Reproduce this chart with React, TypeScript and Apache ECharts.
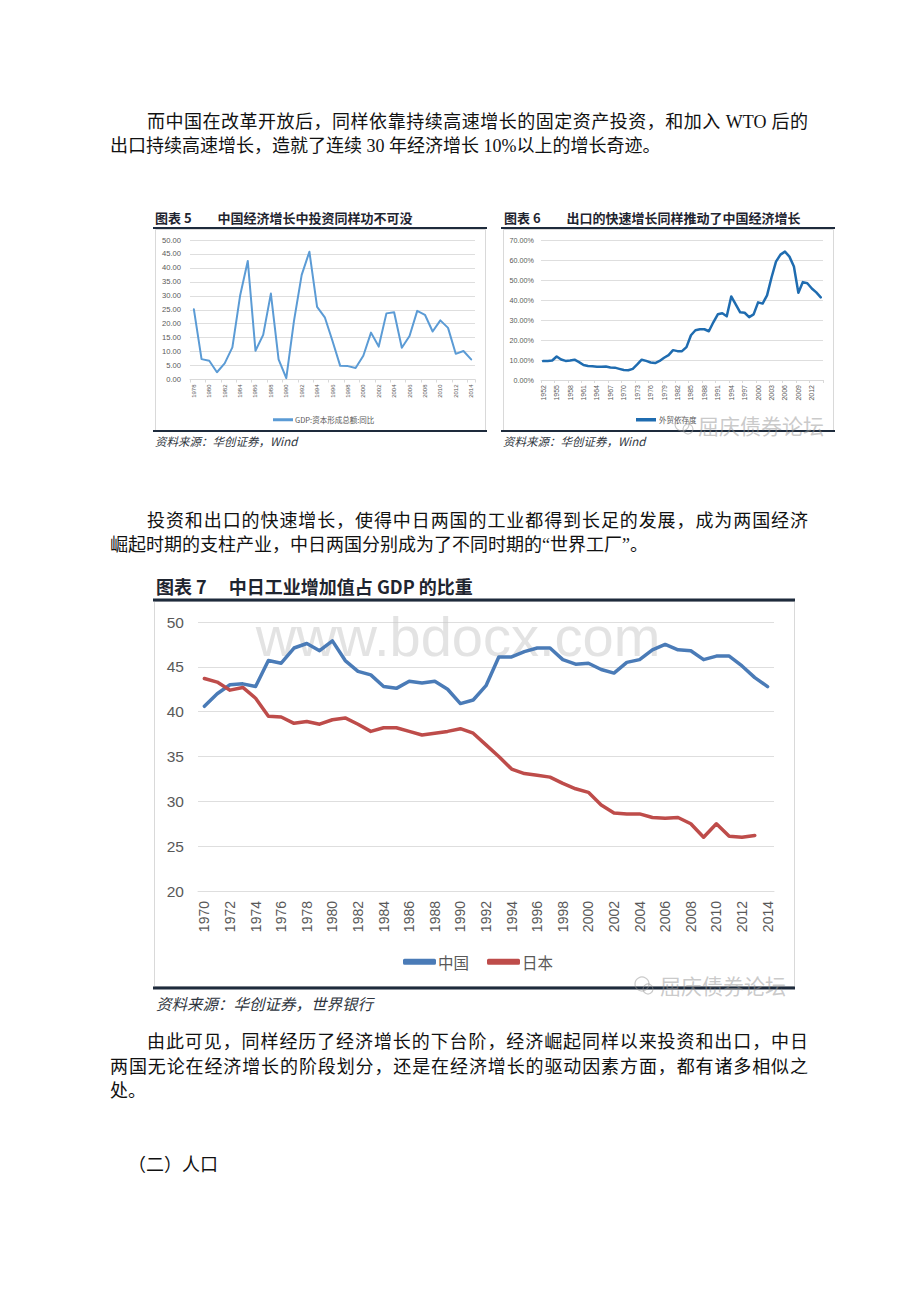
import React, { useEffect, useRef } from "react";
import * as echarts from "echarts";

const yearRange = (a: number, b: number) => {
  const out: string[] = [];
  for (let y = a; y <= b; y++) out.push(String(y));
  return out;
};

// Chart 5: GDP 资本形成总额 同比 (1978-2014)
const years5 = yearRange(1978, 2014);
const capForm5 = [
  25.2, 7.3, 6.7, 2.6, 5.8, 11.5, 30.0, 42.5, 10.3, 16.0, 30.8, 7.2, 0.5, 21.0,
  37.5, 45.8, 26.0, 22.3, 13.8, 4.9, 4.8, 4.1, 8.5, 16.8, 11.8, 23.7, 24.1, 11.4,
  15.6, 24.6, 23.2, 17.2, 21.2, 18.5, 9.2, 10.2, 7.2,
];

// Chart 6: 外贸依存度 (1952-2014)
const years6 = yearRange(1952, 2014);
const tradeDep6 = [
  9.5, 9.6, 9.8, 11.8, 10.3, 9.6, 9.8, 10.2, 9.0, 7.5, 7.0, 6.9, 6.7, 6.7, 6.8,
  6.3, 6.2, 5.6, 5.0, 4.9, 5.6, 7.8, 10.2, 9.6, 8.8, 8.5, 9.6, 11.2, 12.5, 15.0,
  14.5, 14.5, 16.5, 22.5, 25.0, 25.5, 25.5, 24.5, 29.0, 33.0, 33.5, 32.0, 42.0,
  38.0, 34.0, 33.8, 31.6, 33.0, 39.0, 38.4, 42.5, 51.5, 59.5, 63.0, 64.5, 62.0,
  57.0, 43.8, 49.2, 48.6, 46.0, 44.0, 41.5,
];

// Chart 7: 中日工业增加值占GDP比重 (1970-2014)
const years7 = yearRange(1970, 2014);
const china7 = [
  40.6, 42.0, 43.0, 43.1, 42.8, 45.7, 45.4, 47.1, 47.6, 46.8,
  47.9, 45.7, 44.5, 44.1, 42.8, 42.6, 43.4, 43.2, 43.4, 42.5,
  40.9, 41.3, 42.9, 46.1, 46.1, 46.7, 47.1, 47.1, 45.8, 45.3,
  45.4, 44.7, 44.3, 45.5, 45.8, 46.9, 47.5, 46.9, 46.8, 45.8,
  46.2, 46.2, 45.1, 43.8, 42.8,
];
const japan7 = [
  43.7, 43.3, 42.4, 42.7, 41.5, 39.5, 39.4, 38.7, 38.9, 38.6,
  39.1, 39.3, 38.6, 37.8, 38.2, 38.2, 37.8, 37.4, 37.6, 37.8,
  38.1, 37.6, 36.3, 35.0, 33.6, 33.1, 32.9, 32.7, 32.0, 31.4,
  31.0, 29.6, 28.7, 28.6, 28.6, 28.2, 28.1, 28.2, 27.5, 26.0,
  27.5, 26.1, 26.0, 26.2, null,
];

const SANS = '"Liberation Sans", "Noto Sans CJK SC", sans-serif';
const CJK = '"Noto Sans CJK SC", "Liberation Sans", sans-serif';
const RULE = "#1e2b3c";
const BOX = "#d9d9d9";
const GRIDC = "#dedede";
const LABEL = "#595959";

const para = [
  { left: 147, y: 122, width: 661, text: "而中国在改革开放后，同样依靠持续高速增长的固定资产投资，和加入 WTO 后的" },
  { left: 110, y: 146, text: "出口持续高速增长，造就了连续 30 年经济增长 10%以上的增长奇迹。" },
  { left: 147, y: 521, width: 661, text: "投资和出口的快速增长，使得中日两国的工业都得到长足的发展，成为两国经济" },
  { left: 110, y: 545, text: "崛起时期的支柱产业，中日两国分别成为了不同时期的“世界工厂”。" },
  { left: 147, y: 1042, width: 661, text: "由此可见，同样经历了经济增长的下台阶，经济崛起同样以来投资和出口，中日" },
  { left: 110, y: 1067, width: 698, text: "两国无论在经济增长的阶段划分，还是在经济增长的驱动因素方面，都有诸多相似之" },
  { left: 110, y: 1091, text: "处。" },
  { left: 128, y: 1165, text: "（二）人口" },
];

function wechatMark(iconX: number, textX: number, y: number) {
  const c = "rgba(150,150,150,0.5)";
  return [
    { type: "circle", shape: { cx: iconX, cy: y - 1, r: 7 }, style: { fill: "none", stroke: c, lineWidth: 1.2 }, z: 10 },
    { type: "circle", shape: { cx: iconX + 6, cy: y + 4, r: 5 }, style: { fill: "none", stroke: c, lineWidth: 1.2 }, z: 10 },
    {
      type: "text", x: textX, y: y,
      style: { text: "屈庆债券论坛", fontSize: 21, fontFamily: CJK, fill: c, align: "left", verticalAlign: "middle" },
      z: 10,
    },
  ];
}

function buildOption() {
  const smallX = (gi: number, data: string[], interval: number, size: number) => ({
    type: "category",
    gridIndex: gi,
    data,
    boundaryGap: true,
    axisLine: { show: true, lineStyle: { color: BOX, width: 1 } },
    axisTick: { show: true, interval, length: 3, lineStyle: { color: BOX } },
    axisLabel: { interval, rotate: 90, fontSize: size, color: LABEL, margin: 5, fontFamily: SANS },
    splitLine: { show: false },
  });

  return {
    animation: false,
    backgroundColor: "#ffffff",
    textStyle: { fontFamily: SANS },
    grid: [
      { left: 190, top: 240, width: 285, height: 139.5, outerBoundsMode: "none" },
      { left: 541, top: 240.7, width: 282, height: 139.3, outerBoundsMode: "none" },
      { left: 198, top: 622, width: 576, height: 269, outerBoundsMode: "none" },
    ],
    xAxis: [
      smallX(0, years5, 1, 6),
      smallX(1, years6, 2, 7),
      {
        type: "category",
        gridIndex: 2,
        data: years7,
        boundaryGap: true,
        axisLine: { show: true, lineStyle: { color: GRIDC } },
        axisTick: { show: false },
        axisLabel: { interval: 1, rotate: 90, fontSize: 14, color: LABEL, margin: 10, fontFamily: SANS },
        splitLine: { show: false },
      },
    ],
    yAxis: [
      {
        type: "value", gridIndex: 0, min: 0, max: 50, interval: 5,
        axisLine: { show: false }, axisTick: { show: false },
        axisLabel: { fontSize: 7.6, color: LABEL, margin: 9, formatter: (v: number) => v.toFixed(2) },
        splitLine: { lineStyle: { color: GRIDC, width: 1 } },
      },
      {
        type: "value", gridIndex: 1, min: 0, max: 70, interval: 10,
        axisLine: { show: false }, axisTick: { show: false },
        axisLabel: { fontSize: 7.2, color: LABEL, margin: 7, formatter: (v: number) => v.toFixed(2) + "%" },
        splitLine: { lineStyle: { color: GRIDC, width: 1 } },
      },
      {
        type: "value", gridIndex: 2, min: 20, max: 50, interval: 5,
        axisLine: { show: false }, axisTick: { show: false },
        axisLabel: { fontSize: 15.5, color: LABEL, margin: 14 },
        splitLine: { lineStyle: { color: GRIDC, width: 1 } },
      },
    ],
    legend: [
      {
        data: ["GDP:资本形成总额:同比"], left: 268, top: 411, icon: "rect",
        itemWidth: 20, itemHeight: 3, itemGap: 2,
        textStyle: { fontSize: 7.5, color: LABEL, fontFamily: CJK, padding: [0, 0, 0, -3] },
      },
      {
        data: ["外贸依存度"], left: 631, top: 411, icon: "rect",
        itemWidth: 20, itemHeight: 3.5,
        textStyle: { fontSize: 7.5, color: LABEL, fontFamily: CJK, padding: [0, 0, 0, -2] },
      },
      {
        data: ["中国", "日本"], left: 398, top: 949, icon: "roundRect",
        itemWidth: 33, itemHeight: 6, itemGap: 18,
        textStyle: { fontSize: 15.5, color: LABEL, fontFamily: CJK, padding: [0, 0, 0, -3] },
      },
    ],
    series: [
      {
        name: "GDP:资本形成总额:同比", type: "line", xAxisIndex: 0, yAxisIndex: 0,
        data: capForm5, symbol: "none", itemStyle: { color: "#5b9bd5" },
        lineStyle: { color: "#5b9bd5", width: 2, join: "round", cap: "round" },
      },
      {
        name: "外贸依存度", type: "line", xAxisIndex: 1, yAxisIndex: 1,
        data: tradeDep6, symbol: "none", itemStyle: { color: "#1f6cb0" },
        lineStyle: { color: "#1f6cb0", width: 2.5, join: "round", cap: "round" },
      },
      {
        name: "中国", type: "line", xAxisIndex: 2, yAxisIndex: 2,
        data: china7, symbol: "none", itemStyle: { color: "#4a7bb7" },
        lineStyle: { color: "#4a7bb7", width: 3.5, join: "round", cap: "round" },
      },
      {
        name: "日本", type: "line", xAxisIndex: 2, yAxisIndex: 2,
        data: japan7, symbol: "none", itemStyle: { color: "#be4c4a" },
        lineStyle: { color: "#be4c4a", width: 3.5, join: "round", cap: "round" },
      },
    ],
    graphic: [
      // boxes
      { type: "rect", shape: { x: 155.5, y: 229.5, width: 330, height: 201 }, style: { fill: "none", stroke: BOX, lineWidth: 1 }, z: 0 },
      { type: "rect", shape: { x: 503.5, y: 229.5, width: 330, height: 201 }, style: { fill: "none", stroke: BOX, lineWidth: 1 }, z: 0 },
      { type: "rect", shape: { x: 154.5, y: 601.5, width: 640, height: 385 }, style: { fill: "none", stroke: BOX, lineWidth: 1 }, z: 0 },
      // rules
      { type: "line", shape: { x1: 153, y1: 228, x2: 487, y2: 228 }, style: { stroke: RULE, lineWidth: 2 }, z: 5 },
      { type: "line", shape: { x1: 153, y1: 431, x2: 487, y2: 431 }, style: { stroke: RULE, lineWidth: 2 }, z: 5 },
      { type: "line", shape: { x1: 501, y1: 228, x2: 835, y2: 228 }, style: { stroke: RULE, lineWidth: 2 }, z: 5 },
      { type: "line", shape: { x1: 501, y1: 431, x2: 835, y2: 431 }, style: { stroke: RULE, lineWidth: 2 }, z: 5 },
      { type: "line", shape: { x1: 153, y1: 600, x2: 795, y2: 600 }, style: { stroke: RULE, lineWidth: 3 }, z: 5 },
      { type: "line", shape: { x1: 153, y1: 988, x2: 795, y2: 988 }, style: { stroke: RULE, lineWidth: 3 }, z: 5 },
      // titles
      {
        type: "text", x: 155, y: 217,
        style: { text: "图表 5\u3000\u3000中国经济增长中投资同样功不可没", fontSize: 13, fontWeight: "bold", fontFamily: CJK, fill: "#1f2530", align: "left", verticalAlign: "middle" },
      },
      {
        type: "text", x: 504, y: 217,
        style: { text: "图表 6\u3000\u3000出口的快速增长同样推动了中国经济增长", fontSize: 13, fontWeight: "bold", fontFamily: CJK, fill: "#1f2530", align: "left", verticalAlign: "middle" },
      },
      {
        type: "text", x: 156, y: 586,
        style: { text: "图表 7\u3000\u00a0中日工业增加值占 GDP 的比重", fontSize: 18, fontWeight: "bold", fontFamily: CJK, fill: "#1f2530", align: "left", verticalAlign: "middle" },
      },
      // sources
      {
        type: "text", x: 155, y: 441,
        style: { text: "资料来源：华创证券，Wind", fontSize: 11.5, fontStyle: "italic", fontFamily: CJK, fill: "#2f3640", align: "left", verticalAlign: "middle" },
      },
      {
        type: "text", x: 503, y: 441,
        style: { text: "资料来源：华创证券，Wind", fontSize: 11.5, fontStyle: "italic", fontFamily: CJK, fill: "#2f3640", align: "left", verticalAlign: "middle" },
      },
      {
        type: "text", x: 156, y: 1003,
        style: { text: "资料来源：华创证券，世界银行", fontSize: 15.5, fontStyle: "italic", fontFamily: CJK, fill: "#2f3640", align: "left", verticalAlign: "middle" },
      },
      // watermarks
      {
        type: "text", x: 458, y: 636,
        style: { text: "www.bdocx.com", fontSize: 56, fontFamily: SANS, fill: "rgba(200,200,200,0.5)", align: "center", verticalAlign: "middle" },
        z: 1,
      },
      ...wechatMark(682, 698, 425),
      ...wechatMark(642, 660, 985),
    ],
  };
}

export default function App() {
  const ref = useRef<HTMLDivElement>(null);
  useEffect(() => {
    if (!ref.current) return;
    const chart = echarts.init(ref.current, undefined, { renderer: "svg" });
    chart.setOption(buildOption() as any);
    return () => chart.dispose();
  }, []);

  return (
    <div style={{ position: "absolute", left: 0, top: 0, width: 920, height: 1302, background: "#fff", overflow: "hidden" }}>
      <div ref={ref} style={{ position: "absolute", left: 0, top: 0, width: 920, height: 1302 }} />
      {para.map((p, i) => (
        <div
          key={i}
          style={{
            position: "absolute",
            left: p.left,
            top: p.y - 12,
            height: 24,
            lineHeight: "24px",
            fontSize: 18,
            color: "#111",
            fontFamily: '"Liberation Serif", "Noto Sans CJK SC", serif',
            whiteSpace: p.width ? "normal" : "nowrap",
            width: p.width,
            textAlign: p.width ? "justify" : "left",
            textAlignLast: p.width ? "justify" : "auto",
            zIndex: 2,
          } as React.CSSProperties}
        >
          {p.text}
        </div>
      ))}
    </div>
  );
}
